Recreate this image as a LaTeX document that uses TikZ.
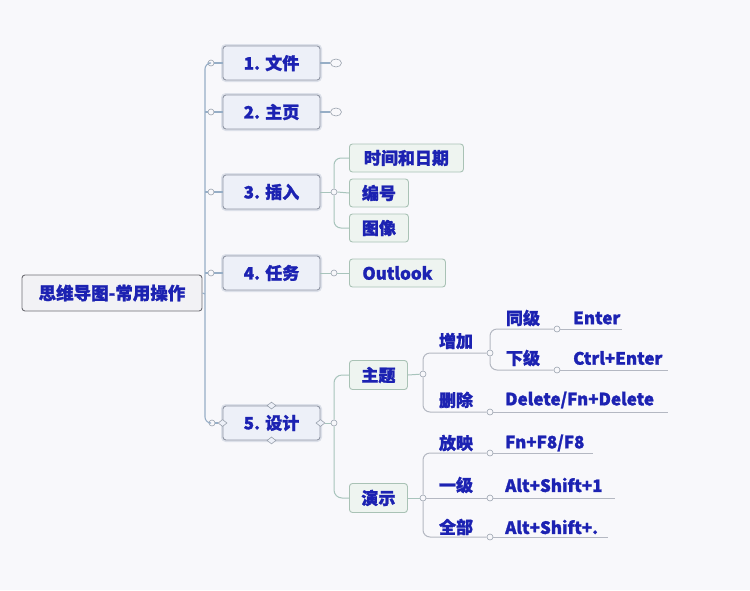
\documentclass[tikz,border=0pt]{standalone}
\usepackage{fontspec}
\setmainfont{Noto Sans CJK SC}[BoldFeatures={FakeBold=1.3}]
\usetikzlibrary{shapes.geometric}
\definecolor{txt}{HTML}{1C22B2}
\definecolor{bgc}{HTML}{F8F8FB}
\definecolor{lonefill}{HTML}{EDF0F8}
\definecolor{loneborder}{HTML}{9298A6}
\definecolor{lonehalo}{HTML}{DCE0E9}
\definecolor{rootfill}{HTML}{F2F2F5}
\definecolor{rootborder}{HTML}{6E6E74}
\definecolor{ltwofill}{HTML}{EEF4F0}
\definecolor{ltwoborder}{HTML}{A9C2B5}
\definecolor{spinec}{HTML}{97AEC6}
\definecolor{ltwoline}{HTML}{A8C4BC}
\definecolor{ulc}{HTML}{B4B8C2}
\definecolor{knobc}{HTML}{9AA2AE}
\tikzset{
  every node/.style={font=\fontsize{17}{20}\selectfont\bfseries, text=txt},
  rootbox/.style={draw=rootborder, fill=rootfill, rounded corners=3pt, line width=0.9pt,
    minimum width=180pt, minimum height=36pt, inner sep=0pt, font=\fontsize{17.5}{20}\selectfont\bfseries},
  lonebox/.style={draw=loneborder, fill=lonefill, rounded corners=3pt, line width=0.9pt,
    minimum width=97pt, minimum height=34pt, inner sep=0pt,
    preaction={draw=lonehalo, line width=4pt}},
  ltwobox/.style={draw=ltwoborder, fill=ltwofill, rounded corners=3pt, line width=0.9pt,
    minimum height=28pt, inner sep=0pt, anchor=west},
  knob/.style={circle, draw=knobc, fill=bgc, line width=0.6pt, minimum size=6pt, inner sep=0pt},
  knobbig/.style={ellipse, draw=knobc, fill=bgc, line width=0.6pt, minimum width=11pt, minimum height=8pt, inner sep=0pt},
  handle/.style={diamond, draw=knobc, fill=lonefill, line width=0.6pt, minimum width=9pt, minimum height=7pt, inner sep=0pt},
  spine/.style={draw=spinec, line width=1.1pt},
  ltwoline/.style={draw=ltwoline, line width=1pt},
  uline/.style={draw=ulc, line width=1pt},
  lt/.style={inner sep=0pt},
  ltw/.style={inner sep=0pt, anchor=west},
}
\begin{document}
\begin{tikzpicture}[x=1pt,y=-1pt]
\fill[bgc] (0,0) rectangle (750,590);
\useasboundingbox (0,0) rectangle (750,590);

% root
\node[rootbox] (root) at (112,293) {思维导图-常用操作};
\coordinate (sp) at (205,294);

% level 1
\node[lonebox] (n1) at (271.5,63) {1. 文件};
\node[lonebox] (n2) at (271.5,112) {2. 主页};
\node[lonebox] (n3) at (271.5,192) {3. 插入};
\node[lonebox] (n4) at (271.5,273) {4. 任务};
\node[lonebox] (n5) at (271.5,423) {5. 设计};
\node[handle] (h5t) at (n5.north) {};
\node[handle] (h5b) at (n5.south) {};
\node[handle] (h5l) at (n5.west) {};
\node[handle] (h5r) at (n5.east) {};

% spine knobs
\node[knob] (k1a) at (211,63) {};
\node[knob] (k2a) at (211,112) {};
\node[knob] (k3a) at (211,192) {};
\node[knob] (k4a) at (211,273) {};
\node[knob] (k5a) at (212,423) {};
\draw[spine] (root.east) -- (sp);
\draw[spine, rounded corners=6pt] (k1a.west) -| (sp) |- (k5a.west);
\draw[spine] (k2a.west) -- (k2a.west -| sp);
\draw[spine] (k3a.west) -- (k3a.west -| sp);
\draw[spine] (k4a.west) -- (k4a.west -| sp);
\draw[spine] (k1a.east) -- (n1.west);
\draw[spine] (k2a.east) -- (n2.west);
\draw[spine] (k3a.east) -- (n3.west);
\draw[spine] (k4a.east) -- (n4.west);
\draw[spine] (k5a.east) -- (h5l.west);

% collapsed markers
\node[knobbig] (c1) at (336,63) {};
\node[knobbig] (c2) at (336,112) {};
\draw[spine] (n1.east) -- (c1);
\draw[spine] (n2.east) -- (c2);

% 插入 children
\node[ltwobox, minimum width=114pt] (t1) at (349,158) {时间和日期};
\node[ltwobox, minimum width=59pt] (t2) at (349,193) {编号};
\node[ltwobox, minimum width=59pt] (t3) at (349,228) {图像};
\node[knob] (k3b) at (334,192) {};
\draw[ltwoline] (n3.east) -- (k3b);
\draw[ltwoline, rounded corners=7pt] (t1.west) -| (k3b.north);
\draw[ltwoline, rounded corners=7pt] (k3b.south) |- (t3.west);
\draw[ltwoline] (k3b.east) -- (t2.west);

% 任务 child
\node[ltwobox, minimum width=96pt] (t4) at (349,273) {Outlook};
\node[knob] (k4b) at (334,273) {};
\draw[ltwoline] (n4.east) -- (k4b);
\draw[ltwoline] (k4b) -- (t4.west);

% 设计 children
\node[ltwobox, minimum width=58pt, minimum height=29pt] (zt) at (349,375) {主题};
\node[ltwobox, minimum width=58pt, minimum height=29pt] (ys) at (349,498) {演示};
\node[knob] (k5b) at (334,423) {};
\draw[ltwoline] (h5r.east) -- (k5b);
\draw[ltwoline, rounded corners=8pt] (zt.west) -| (k5b.north);
\draw[ltwoline, rounded corners=8pt] (k5b.south) |- (ys.west);

% 主题 subtree
\node[knob] (kzt) at (423,374) {};
\draw[ltwoline] (zt.east) -- (kzt);
\node[knob] (kzj) at (490,353) {};
\node[knob] (ksc) at (490,412) {};
\draw[uline, rounded corners=7pt] (kzt.north) |- (kzj.west);
\draw[uline, rounded corners=7pt] (kzt.south) |- (ksc.west);
\node[lt] (tzj) at (456,341) {增加};
\node[lt] (tsc) at (456,400) {删除};

\node[knob] (ktj) at (557,329) {};
\node[knob] (kxj) at (557,370) {};
\draw[uline, rounded corners=7pt] (ktj.west) -| (kzj.north);
\draw[uline, rounded corners=7pt] (kzj.south) |- (kxj.west);
\node[lt] (ttj) at (523,318) {同级};
\node[lt] (txj) at (523,358) {下级};

\coordinate (eEnter) at (622,329);
\coordinate (eCtrl) at (668,370);
\coordinate (eDel) at (668,412);
\draw[uline] (ktj.east) -- (eEnter);
\draw[uline] (kxj.east) -- (eCtrl);
\draw[uline] (ksc.east) -- (eDel);
\node[ltw] (tEnter) at (573,318) {Enter};
\node[ltw] (tCtrl) at (573,358) {Ctrl+Enter};
\node[ltw] (tDel) at (505,400) {Delete/Fn+Delete};

% 演示 subtree
\node[knob] (kys) at (423,498) {};
\draw[ltwoline] (ys.east) -- (kys);
\node[knob] (kfy) at (490,453) {};
\node[knob] (kyj) at (490,498) {};
\node[knob] (kqb) at (490,537) {};
\draw[uline, rounded corners=7pt] (kys.north) |- (kfy.west);
\draw[uline] (kys.east) -- (kyj.west);
\draw[uline, rounded corners=7pt] (kys.south) |- (kqb.west);
\node[lt] (tfy) at (456,443) {放映};
\node[lt] (tyj) at (456,485) {一级};
\node[lt] (tqb) at (456,527) {全部};

\coordinate (eFn) at (593,453);
\coordinate (eAlt) at (615,498);
\coordinate (eAltd) at (608,537);
\draw[uline] (kfy.east) -- (eFn);
\draw[uline] (kyj.east) -- (eAlt);
\draw[uline] (kqb.east) -- (eAltd);
\node[ltw] (tFn) at (505,443) {Fn+F8/F8};
\node[ltw] (tAlt) at (505,485) {Alt+Shift+1};
\node[ltw] (tAltd) at (505,527) {Alt+Shift+.};
\end{tikzpicture}
\end{document}
